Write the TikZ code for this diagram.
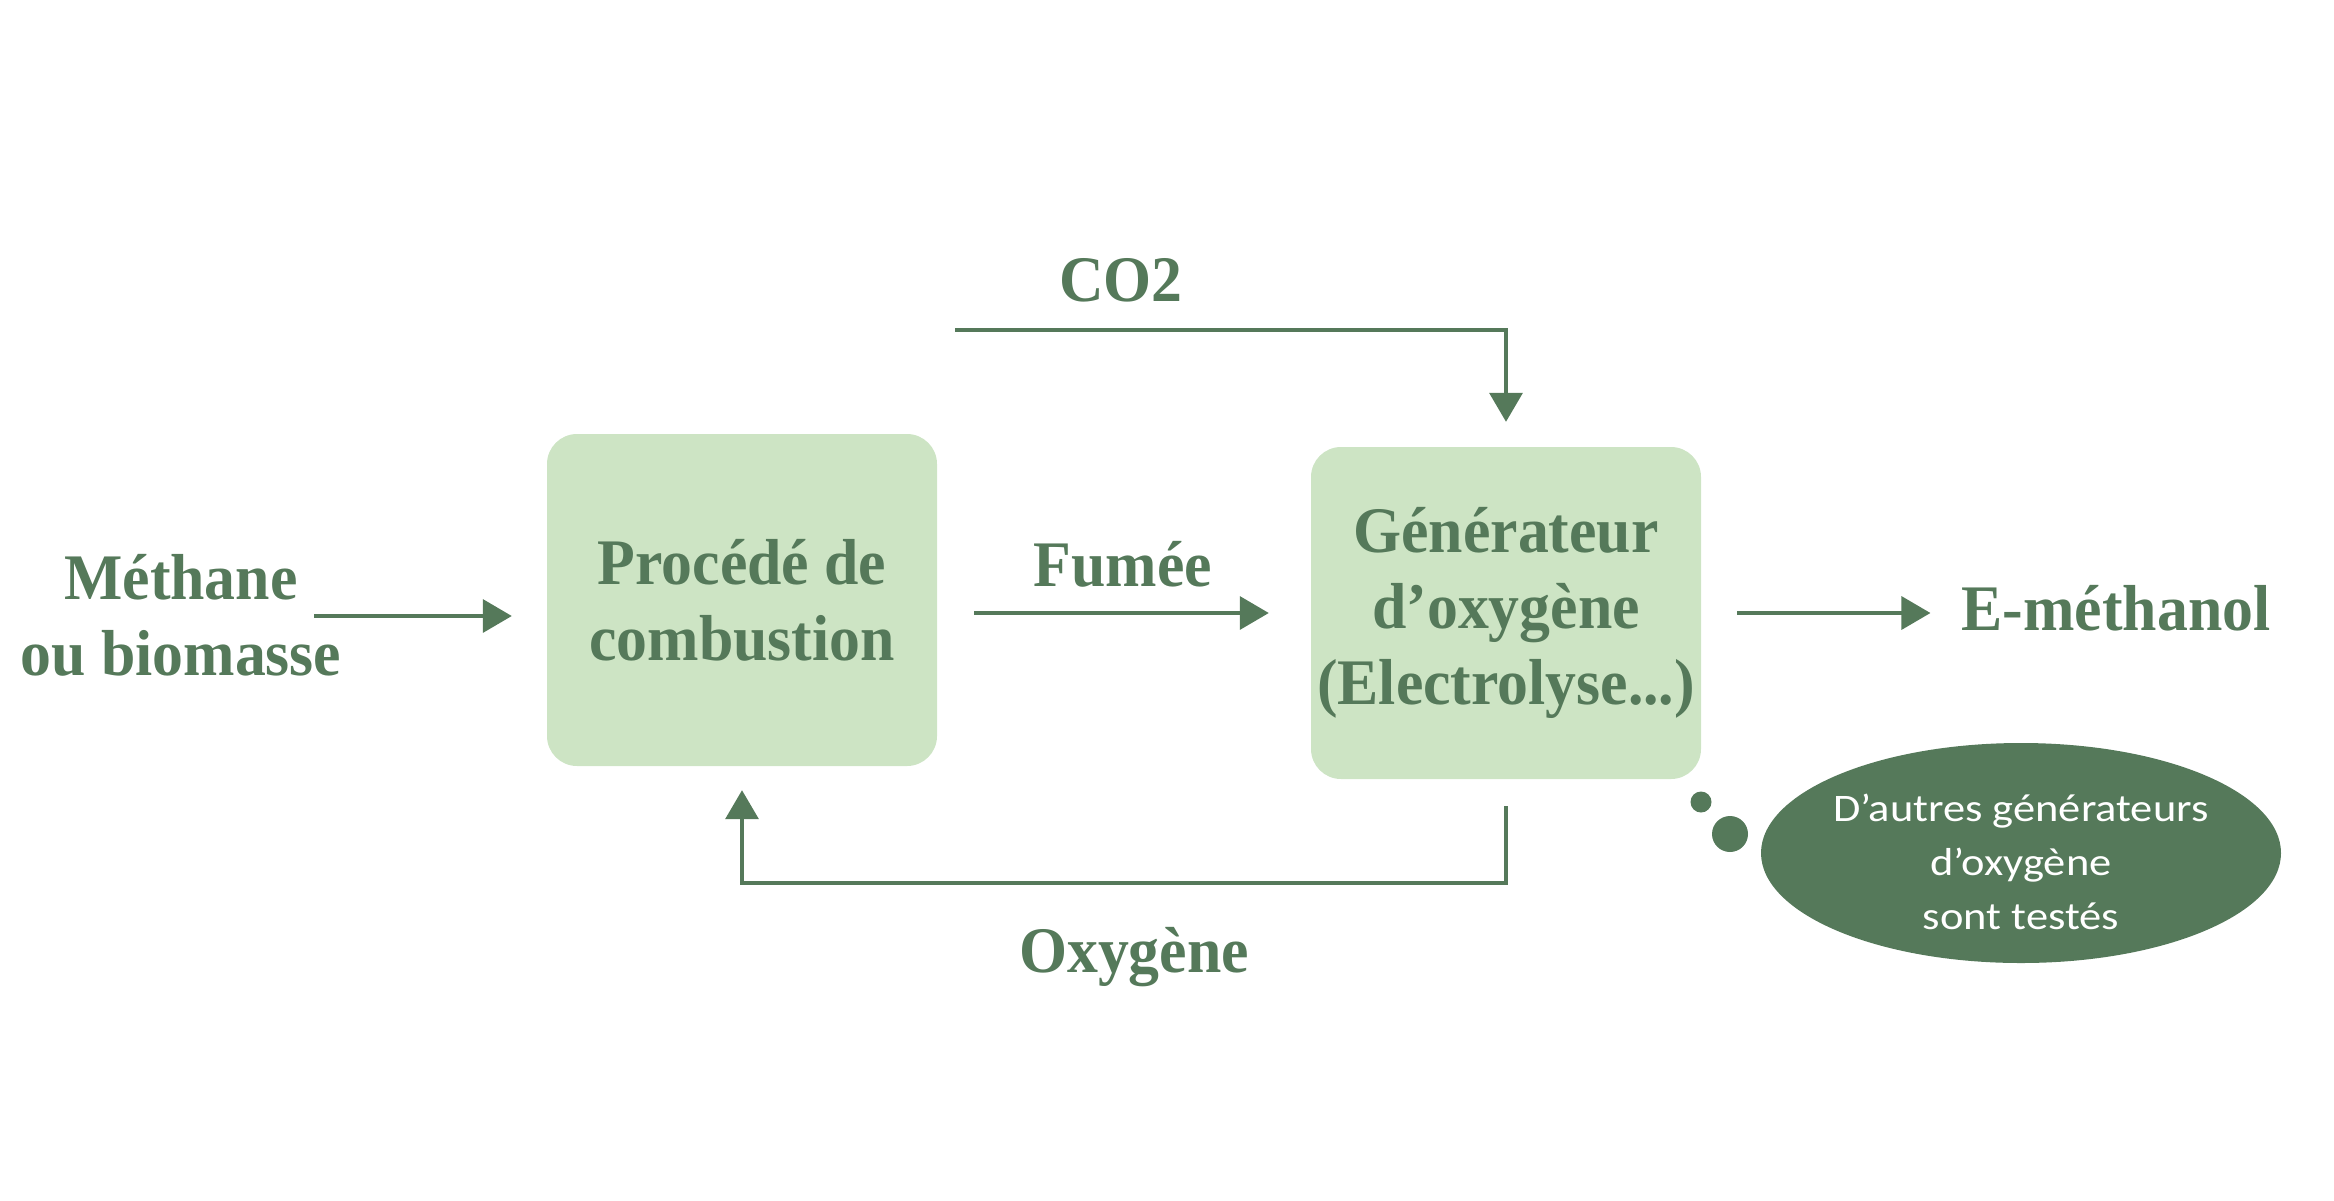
\documentclass[tikz,border=0pt]{standalone}
\usepackage{fontspec}
\setmainfont{Liberation Serif}[FakeStretch=0.95]
\newfontfamily\bullefont[FakeStretch=1.14]{Carlito}
\usetikzlibrary{arrows.meta,shapes.geometric}
\definecolor{vertfonce}{RGB}{85,121,90}
\definecolor{vertclair}{RGB}{205,228,196}
\tikzset{
  procbox/.style={rounded corners=30pt, fill=vertclair, minimum width=390pt, minimum height=332pt, inner sep=0pt,
    align=center, text=vertfonce, font=\bfseries\fontsize{65}{76}\selectfont},
  label/.style={inner sep=0pt, align=center, text=vertfonce, font=\bfseries\fontsize{65}{76}\selectfont},
  flow/.style={draw=vertfonce, line width=3.5pt, -{Triangle[length=29pt,width=33pt]}}
}
\begin{document}
\begin{tikzpicture}[x=1pt, y=-1pt]
\useasboundingbox (0,0) rectangle (2334,1200);
\node[procbox] (combustion) at (742,600) {Procédé de\\combustion};
\node[procbox] (generateur) at (1506,613) {Générateur\\d’oxygène\\(Electrolyse...)};
\node[label] (methane) at (181,615) {Méthane\\ou biomasse};
\node[label] (methanol) at (2116,608) {E-méthanol};
\node[label] (co2) at (1121,280) {CO2};
\node[label] (fumee) at (1123,564) {Fumée};
\node[label] (oxygene) at (1134,957) {Oxygène};
% bulle
\node[ellipse, fill=vertfonce, minimum width=520pt, minimum height=220pt, inner sep=0pt] (bulle) at (2021,853) {};
\node[inner sep=0pt, align=center, text=white, font=\bullefont\fontsize{39}{54}\selectfont] (bulletexte)
  at ([yshift=-9pt]bulle.center) {D’autres générateurs\\d’oxygène\\sont testés};
\fill[vertfonce] (1701,802) circle [radius=10.5pt];
\fill[vertfonce] (1730,834) circle [radius=18pt];
% fleches
\coordinate (entree) at (314,616);
\coordinate (co2start) at (955,330);
\draw[flow, shorten >=35pt] (entree) -- (entree -| combustion.west);
\draw[flow, shorten <=37pt, shorten >=42pt] ([yshift=-13pt]combustion.east) -- ([yshift=-13pt]combustion.east -| generateur.west);
\draw[flow, shorten <=36pt, shorten >=31pt] (generateur.east) -- (generateur.east -| methanol.west);
\draw[flow, shorten >=25pt] (co2start) -| (generateur.north);
\draw[flow, shorten <=27pt, shorten >=24pt] (generateur.south) -- ++(0,104) -| (combustion.south);
\end{tikzpicture}
\end{document}
